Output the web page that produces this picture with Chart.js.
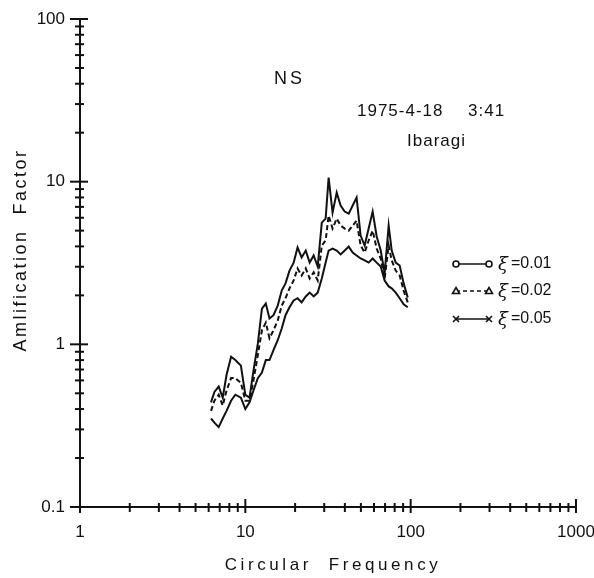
<!DOCTYPE html>
<html>
<head>
<meta charset="utf-8">
<script src="https://cdn.jsdelivr.net/npm/chart.js@4"></script>
<style>
  html, body { margin: 0; padding: 0; background: #fff; }
  #wrap { width: 594px; height: 578px; }
</style>
</head>
<body>
<div id="wrap"><canvas id="ampChart" width="594" height="578"></canvas></div>
<script>
// circular frequency (rad/s)
const freqs = [6.2, 6.5, 6.9, 7.3, 7.7, 8.2, 8.7, 9.4, 10.0, 10.6, 11.2, 11.9, 12.6, 13.3, 14.0, 14.8, 15.7, 16.6, 17.5, 18.5,
               19.6, 20.7, 21.9, 23.2, 24.5, 25.9, 27.4, 29.0, 30.6, 31.9, 33.7, 35.7, 37.7, 39.9, 42.2, 44.6, 47.1, 49.8, 52.7, 55.7,
               58.9, 62.3, 65.9, 69.6, 73.6, 76.8, 81.2, 85.8, 90.7, 96.0];
// amplification factor for each damping ratio
const damp001 = [0.44, 0.51, 0.55, 0.47, 0.65, 0.84, 0.80, 0.74, 0.49, 0.47, 0.69, 1.01, 1.66, 1.78, 1.44, 1.51, 1.73, 2.14, 2.37, 2.84,
                 3.18, 3.94, 3.42, 3.77, 3.18, 3.52, 3.01, 5.60, 5.93, 10.6, 6.45, 8.56, 7.13, 6.55, 6.36, 7.13, 7.98, 4.66, 4.05, 5.15,
                 6.55, 4.60, 3.77, 2.73, 5.37, 3.77, 3.18, 3.05, 2.37, 1.94];
const damp002 = [0.39, 0.45, 0.49, 0.42, 0.52, 0.62, 0.62, 0.58, 0.45, 0.45, 0.60, 0.86, 1.22, 1.36, 1.09, 1.22, 1.40, 1.73, 1.92, 2.21,
                 2.47, 2.93, 2.65, 2.93, 2.54, 2.77, 2.47, 4.05, 4.35, 6.19, 5.15, 5.93, 5.37, 5.15, 5.00, 5.37, 5.76, 4.05, 3.67, 4.35,
                 5.00, 3.88, 3.37, 2.54, 4.05, 3.28, 2.84, 2.65, 2.14, 1.81];
const damp005 = [0.35, 0.33, 0.31, 0.35, 0.39, 0.45, 0.49, 0.47, 0.40, 0.44, 0.52, 0.62, 0.67, 0.80, 0.80, 0.92, 1.06, 1.25, 1.51, 1.69,
                 1.86, 1.92, 1.81, 1.97, 2.08, 1.97, 2.08, 2.54, 3.18, 3.77, 3.88, 3.77, 3.57, 3.77, 3.99, 3.67, 3.52, 3.37, 3.28, 3.18,
                 3.37, 3.18, 3.01, 2.47, 2.27, 2.21, 2.08, 1.92, 1.76, 1.69];
const seriesLabels = ['0.01', '0.02', '0.05'];
const xTickLabels = ['1', '10', '100', '1000'];
const yTickLabels = ['0.1', '1', '10', '100'];

const INK = '#111';
const FONT = '"Liberation Sans", Arial, sans-serif';

function logTicks(labels) {
    const out = [];
    const majors = labels.map(Number);
    majors.forEach((m, i) => {
        if (i === majors.length - 1) { out.push(m); return; }
        for (let k = 1; k < 10; k++) out.push(m * k);
    });
    return out;
}

function isMajor(labels, v) {
    return labels.map(Number).findIndex(m => Math.abs(m - v) < 1e-9);
}

function toPoints(vals) {
    return freqs.map((f, i) => ({ x: f, y: vals[i] }));
}

function drawMarker(ctx, kind, x, y) {
    ctx.beginPath();
    ctx.fillStyle = '#fff';
    if (kind === 'circle') {
        ctx.arc(x, y, 3, 0, Math.PI * 2);
        ctx.fill();
        ctx.stroke();
    } else if (kind === 'triangle') {
        ctx.moveTo(x, y - 3.5);
        ctx.lineTo(x + 3.5, y + 2.5);
        ctx.lineTo(x - 3.5, y + 2.5);
        ctx.closePath();
        ctx.fill();
        ctx.stroke();
    } else {
        ctx.moveTo(x - 3, y - 3); ctx.lineTo(x + 3, y + 3);
        ctx.moveTo(x + 3, y - 3); ctx.lineTo(x - 3, y + 3);
        ctx.stroke();
    }
}

const extrasPlugin = {
    id: 'extras',
    afterDraw(chart) {
        const { ctx, chartArea, scales } = chart;
        const xs = scales.x, ys = scales.y;
        ctx.save();
        ctx.strokeStyle = INK;
        ctx.lineWidth = 2;

        // tick marks crossing the axes
        xs.ticks.forEach(t => {
            const px = xs.getPixelForValue(t.value);
            const major = isMajor(xTickLabels, t.value) >= 0;
            const up = major ? 8 : 4, down = major ? 6 : 5;
            ctx.beginPath();
            ctx.moveTo(px, chartArea.bottom - up);
            ctx.lineTo(px, chartArea.bottom + down);
            ctx.stroke();
        });
        ys.ticks.forEach(t => {
            const py = ys.getPixelForValue(t.value);
            const major = isMajor(yTickLabels, t.value) >= 0;
            const left = major ? 10 : 5, right = major ? 8 : 4;
            ctx.beginPath();
            ctx.moveTo(chartArea.left - left, py);
            ctx.lineTo(chartArea.left + right, py);
            ctx.stroke();
        });

        ctx.fillStyle = INK;
        ctx.textBaseline = 'middle';

        // axis titles
        ctx.font = '17px ' + FONT;
        ctx.letterSpacing = '3.6px';
        ctx.textAlign = 'center';
        ctx.fillText('Circular  Frequency', 333, 565);
        ctx.save();
        ctx.translate(21, 250);
        ctx.rotate(-Math.PI / 2);
        ctx.font = '18px ' + FONT;
        ctx.letterSpacing = '2.5px';
        ctx.fillText('Amlification  Factor', 0, 0);
        ctx.restore();

        // annotations
        ctx.textAlign = 'left';
        ctx.font = '18px ' + FONT;
        ctx.letterSpacing = '3px';
        ctx.fillText('NS', 274, 79);
        ctx.font = '17px ' + FONT;
        ctx.letterSpacing = '1px';
        ctx.fillText('1975-4-18', 357, 111);
        ctx.fillText('3:41', 468, 111);
        ctx.fillText('Ibaragi', 407, 141);
        ctx.letterSpacing = '0px';

        // legend
        const kinds = ['circle', 'triangle', 'cross'];
        const dashes = [[], [4, 3], []];
        const rowsY = [264, 291, 319];
        seriesLabels.forEach((lab, i) => {
            const y = rowsY[i];
            ctx.lineWidth = 1.6;
            ctx.setLineDash(dashes[i]);
            ctx.beginPath();
            ctx.moveTo(456, y);
            ctx.lineTo(489, y);
            ctx.stroke();
            ctx.setLineDash([]);
            drawMarker(ctx, kinds[i], 456, y);
            drawMarker(ctx, kinds[i], 489, y);
            ctx.fillStyle = INK;
            ctx.font = 'italic 18px "DejaVu Serif", serif';
            ctx.fillText('\u03BE', 498, y + 1);
            ctx.font = '16px ' + FONT;
            ctx.fillText('=' + lab, 511, y);
        });
        ctx.restore();
    }
};

document.addEventListener('DOMContentLoaded', function() {
    const ampCtx = document.getElementById('ampChart').getContext('2d');
    const dashStyles = [[], [5, 3], []];
    const allSeries = [damp001, damp002, damp005];

    new Chart(ampCtx, {
        type: 'line',
        data: {
            datasets: allSeries.map((vals, i) => ({
                label: '\u03BE=' + seriesLabels[i],
                data: toPoints(vals),
                borderColor: INK,
                borderWidth: 2,
                borderDash: dashStyles[i],
                pointRadius: 0,
                tension: 0,
                fill: false
            }))
        },
        options: {
            responsive: false,
            animation: false,
            layout: { padding: { top: 19, right: 18, left: 0, bottom: 0 } },
            plugins: {
                legend: { display: false },
                tooltip: { enabled: false }
            },
            scales: {
                x: {
                    type: 'logarithmic',
                    min: 1,
                    max: 1000,
                    grid: { display: false, drawTicks: false },
                    border: { display: true, color: INK, width: 2 },
                    afterBuildTicks: scale => {
                        scale.ticks = logTicks(xTickLabels).map(v => ({ value: v }));
                    },
                    afterFit: scale => {
                        scale.height = 71;
                        scale.paddingLeft = 0;
                        scale.paddingRight = 0;
                    },
                    ticks: {
                        autoSkip: false,
                        maxRotation: 0,
                        padding: 15,
                        color: INK,
                        font: { family: FONT, size: 17 },
                        callback: function(value) {
                            const idx = isMajor(xTickLabels, value);
                            return idx >= 0 ? xTickLabels[idx] : '';
                        }
                    }
                },
                y: {
                    type: 'logarithmic',
                    min: 0.1,
                    max: 100,
                    grid: { display: false, drawTicks: false },
                    border: { display: true, color: INK, width: 2 },
                    afterBuildTicks: scale => {
                        scale.ticks = logTicks(yTickLabels).map(v => ({ value: v }));
                    },
                    afterFit: scale => {
                        scale.width = 80;
                        scale.paddingTop = 0;
                        scale.paddingBottom = 0;
                    },
                    ticks: {
                        autoSkip: false,
                        padding: 15,
                        color: INK,
                        font: { family: FONT, size: 17 },
                        callback: function(value) {
                            const idx = isMajor(yTickLabels, value);
                            return idx >= 0 ? yTickLabels[idx] : '';
                        }
                    }
                }
            }
        },
        plugins: [extrasPlugin]
    });
});
</script>
</body>
</html>
